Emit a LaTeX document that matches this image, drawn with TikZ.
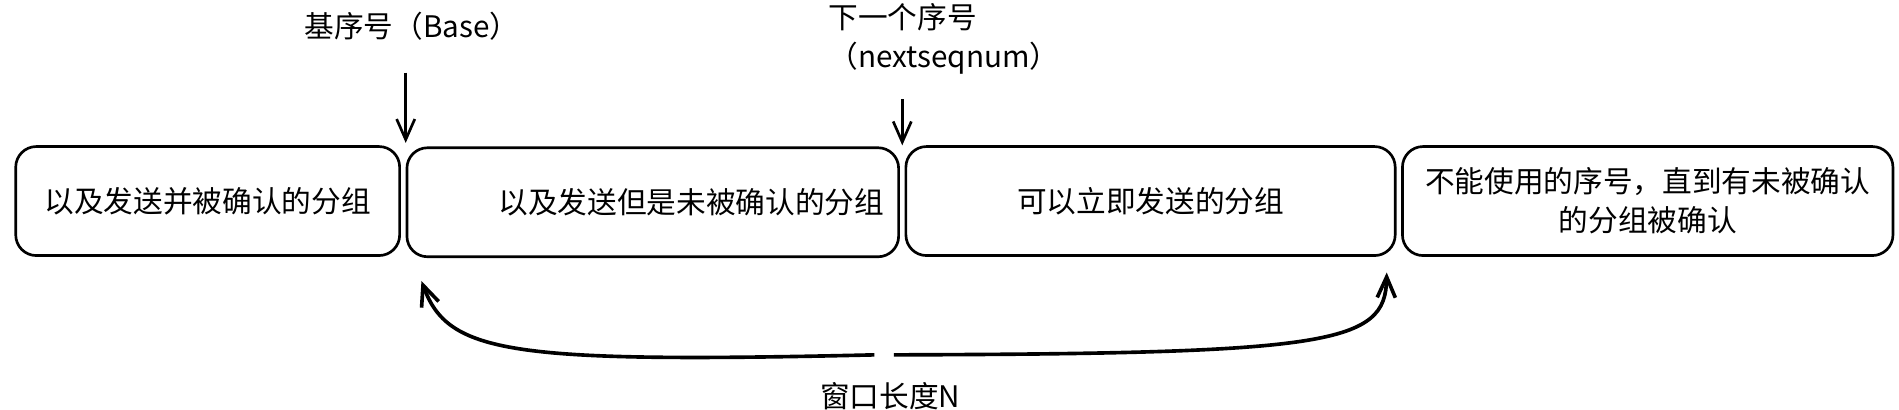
\documentclass[tikz,border=0pt]{standalone}
\usepackage{fontspec}
\setmainfont{Noto Sans CJK SC}
\usetikzlibrary{positioning, arrows.meta}

\begin{document}
\begin{tikzpicture}[x=1pt,y=-1pt,line width=2.2pt,>={Straight Barb[length=17pt,width=15pt]},
                    font=\fontsize{24.5}{32}\selectfont,
                    seg box/.style={draw,rounded corners=17pt,minimum height=90pt,inner sep=0pt}]
  \useasboundingbox (0,0) rectangle (1568,338.5);

  \node[seg box,minimum width=317pt] (s1) at (171.5,166) {以及发送并被确认的分组};
  \node[seg box,minimum width=406pt,text width=382pt,align=right] (s2) at (539,167) {以及发送但是未被确认的分组};
  \node[seg box,minimum width=404pt] (s3) at (950,166) {可以立即发送的分组};
  \node[seg box,minimum width=405pt,text width=392pt,align=center] (s4) at (1360.5,166)
       {不能使用的序号，直到有未被确认\\的分组被确认};

  \node (base) at (340,22) {基序号（Base）};
  \node[anchor=north west,align=left,inner sep=0pt] (next) at (683,2) {下一个序号\\（nextseqnum）};
  \node (win) at (735,327) {窗口长度N};

  \coordinate (b0) at (335,60);
  \coordinate (b1) at (335,118);
  \coordinate (n0) at (745,82);
  \coordinate (n1) at (745,120);
  \draw[->] (b0) -- (b1);
  \draw[->] (n0) -- (n1);

  \coordinate (wl0) at (722,293);
  \coordinate (wl1) at (348,232);
  \coordinate (wr0) at (738,293);
  \coordinate (wr1) at (1145,225);
  \draw[->,line width=3pt] (wl0) .. controls (420,300) and (370,292) .. (wl1);
  \draw[->,line width=3pt] (wr0) .. controls (1100,292) and (1144,284) .. (wr1);

\end{tikzpicture}
\end{document}
